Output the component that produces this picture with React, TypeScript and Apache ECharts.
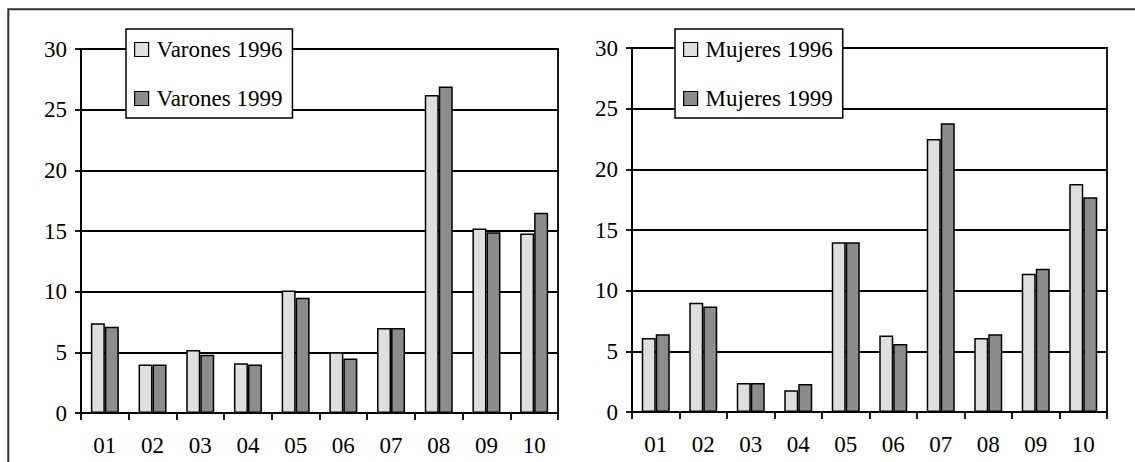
import React, { useEffect, useRef } from "react";
import * as echarts from "echarts";

const categories = ["01", "02", "03", "04", "05", "06", "07", "08", "09", "10"];
const yTicks = { min: 0, max: 30, interval: 5 };
const varonesNames = ["Varones 1996", "Varones 1999"];
const mujeresNames = ["Mujeres 1996", "Mujeres 1999"];
const varones1996 = [7.4, 4.0, 5.2, 4.1, 10.1, 5.0, 7.0, 26.2, 15.2, 14.8];
const varones1999 = [7.1, 4.0, 4.8, 4.0, 9.5, 4.5, 7.0, 26.9, 14.9, 16.5];
const mujeres1996 = [6.1, 9.0, 2.4, 1.8, 14.0, 6.3, 22.5, 6.1, 11.4, 18.8];
const mujeres1999 = [6.4, 8.7, 2.4, 2.3, 14.0, 5.6, 23.8, 6.4, 11.8, 17.7];

const FONT = "Liberation Serif";
const FS = 23;
const LIGHT = "#dfdfdf";
const DARK = "#8c8c8c";
const LINE = "#000";
const LW = 1.8;

export default function App() {
  const ref = useRef<HTMLDivElement>(null);
  useEffect(() => {
    if (!ref.current) return;
    const chart = echarts.init(ref.current, undefined, { renderer: "svg" });
    const xAxis = (gridIndex: number) => ({
      type: "category",
      gridIndex,
      data: categories,
      boundaryGap: true,
      axisLine: { show: true, lineStyle: { color: LINE, width: LW } },
      axisTick: { show: true, length: 7, alignWithLabel: false, lineStyle: { color: LINE, width: LW } },
      axisLabel: { color: "#000", fontSize: FS, fontFamily: FONT, margin: 21 },
      splitLine: { show: false },
    });
    const yAxis = (gridIndex: number) => ({
      type: "value",
      gridIndex,
      min: yTicks.min,
      max: yTicks.max,
      interval: yTicks.interval,
      axisLine: { show: true, lineStyle: { color: LINE, width: LW } },
      axisTick: { show: true, inside: false, length: 6, lineStyle: { color: LINE, width: LW } },
      axisLabel: { color: "#000", fontSize: FS, fontFamily: FONT, margin: 14 },
      splitLine: { show: true, lineStyle: { color: LINE, width: LW } },
    });
    const bar = (name: string, data: number[], color: string, idx: number) => ({
      type: "bar",
      name,
      data,
      xAxisIndex: idx,
      yAxisIndex: idx,
      barWidth: 14,
      barGap: "0%",
      itemStyle: { color, borderColor: LINE, borderWidth: 1.5 },
    });
    const legend = (names: string[], left: number) => ({
      data: names,
      left,
      top: 29,
      orient: "vertical",
      backgroundColor: "#fff",
      borderColor: LINE,
      borderWidth: 1.5,
      padding: [9, 10, 8, 8],
      itemGap: 26,
      itemWidth: 14,
      itemHeight: 14,
      icon: "rect",
      itemStyle: { borderColor: LINE, borderWidth: 1.2 },
      textStyle: { color: "#000", fontSize: FS, fontFamily: FONT, padding: [0, 0, 0, 3] },
      selectedMode: false,
      z: 10,
    });
    chart.setOption({
      animation: false,
      backgroundColor: "#fff",
      textStyle: { fontFamily: FONT },
      grid: [
        { left: 81, top: 49, width: 477, height: 364, show: true, borderColor: LINE, borderWidth: LW, backgroundColor: "transparent" },
        { left: 632, top: 48, width: 475, height: 364, show: true, borderColor: LINE, borderWidth: LW, backgroundColor: "transparent" },
      ],
      xAxis: [xAxis(0), xAxis(1)],
      yAxis: [yAxis(0), yAxis(1)],
      legend: [legend(varonesNames, 126), legend(mujeresNames, 675)],
      series: [
        bar(varonesNames[0], varones1996, LIGHT, 0),
        bar(varonesNames[1], varones1999, DARK, 0),
        bar(mujeresNames[0], mujeres1996, LIGHT, 1),
        bar(mujeresNames[1], mujeres1999, DARK, 1),
      ],
      graphic: [
        {
          type: "polyline",
          shape: { points: [[8.3, 462], [8.3, 9.3], [1135, 9.3]] },
          style: { stroke: "#333", lineWidth: 2, fill: "none" },
          z: 20,
        },
      ],
    });
    return () => chart.dispose();
  }, []);
  return <div ref={ref} style={{ position: "fixed", left: 0, top: 0, width: 1135, height: 462 }} />;
}
